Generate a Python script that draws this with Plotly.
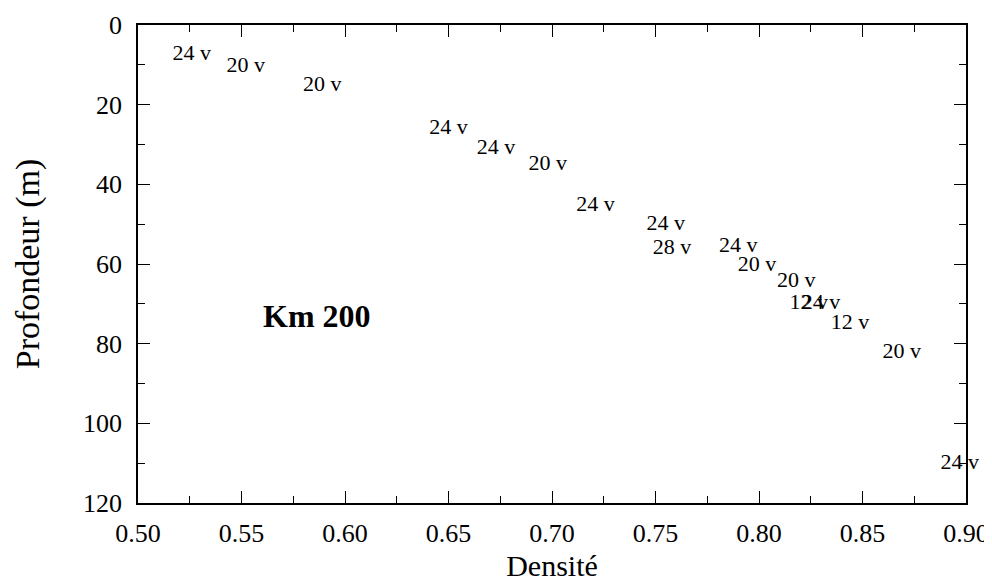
import plotly.graph_objects as go

# density / depth readings, with the label written at each point
densite = [0.526, 0.552, 0.589, 0.650, 0.673, 0.698, 0.721, 0.755, 0.758,
           0.790, 0.799, 0.818, 0.824, 0.830, 0.844, 0.869, 0.897]
profondeur = [7.3, 10.3, 15.3, 26.1, 31.1, 35.1, 45.2, 50.0, 56.0,
              55.7, 60.3, 64.5, 69.8, 69.8, 75.0, 82.1, 110.0]
etiquettes = ["24 v", "20 v", "20 v", "24 v", "24 v", "20 v", "24 v", "24 v", "28 v",
              "24 v", "20 v", "20 v", "12 v", "24 v", "12 v", "20 v", "24 v"]

x_ticks = [0.50, 0.55, 0.60, 0.65, 0.70, 0.75, 0.80, 0.85, 0.90]
y_ticks = [0, 20, 40, 60, 80, 100, 120]

FONT = "Liberation Serif, Times New Roman, serif"

fig = go.Figure()
fig.add_trace(go.Scatter(x=densite, y=profondeur, text=etiquettes,
                         mode="text", textposition="middle center",
                         textfont=dict(family=FONT, size=22, color="black"),
                         cliponaxis=False, showlegend=False, hoverinfo="skip"))

fig.add_annotation(x=0.5865, y=73.0, text="<b>Km 200</b>", showarrow=False,
                   font=dict(family=FONT, size=32, color="black"))

axis_common = dict(showline=True, linecolor="black", linewidth=1.5, mirror="ticks",
                   ticks="inside", ticklen=12, tickwidth=1, tickcolor="black",
                   showgrid=False, zeroline=False, automargin=False,
                   ticklabeloverflow="allow",
                   tickfont=dict(family=FONT, size=26, color="black"))

# page body adds an 8px offset, so the canvas is 8px smaller than the window
fig.update_layout(width=984, height=574, plot_bgcolor="white", paper_bgcolor="white",
                  margin=dict(l=130, r=26, t=17, b=79),
                  font=dict(family=FONT, color="black"))
fig.update_xaxes(range=[0.50, 0.90], tickvals=x_ticks,
                 ticktext=[f"{v:.2f}" for v in x_ticks],
                 ticklabelstandoff=6,
                 minor=dict(ticks="inside", dtick=0.025, tick0=0.5, ticklen=7,
                            tickcolor="black"),
                 title=dict(text="Densité", font=dict(family=FONT, size=30), standoff=16),
                 **axis_common)
fig.update_yaxes(range=[120, 0], tickvals=y_ticks,
                 ticklabelstandoff=9,
                 minor=dict(ticks="inside", dtick=10, tick0=0, ticklen=7,
                            tickcolor="black"),
                 title=dict(text="Profondeur (m)", font=dict(family=FONT, size=34), standoff=33),
                 **axis_common)

fig.write_html("out.html")
